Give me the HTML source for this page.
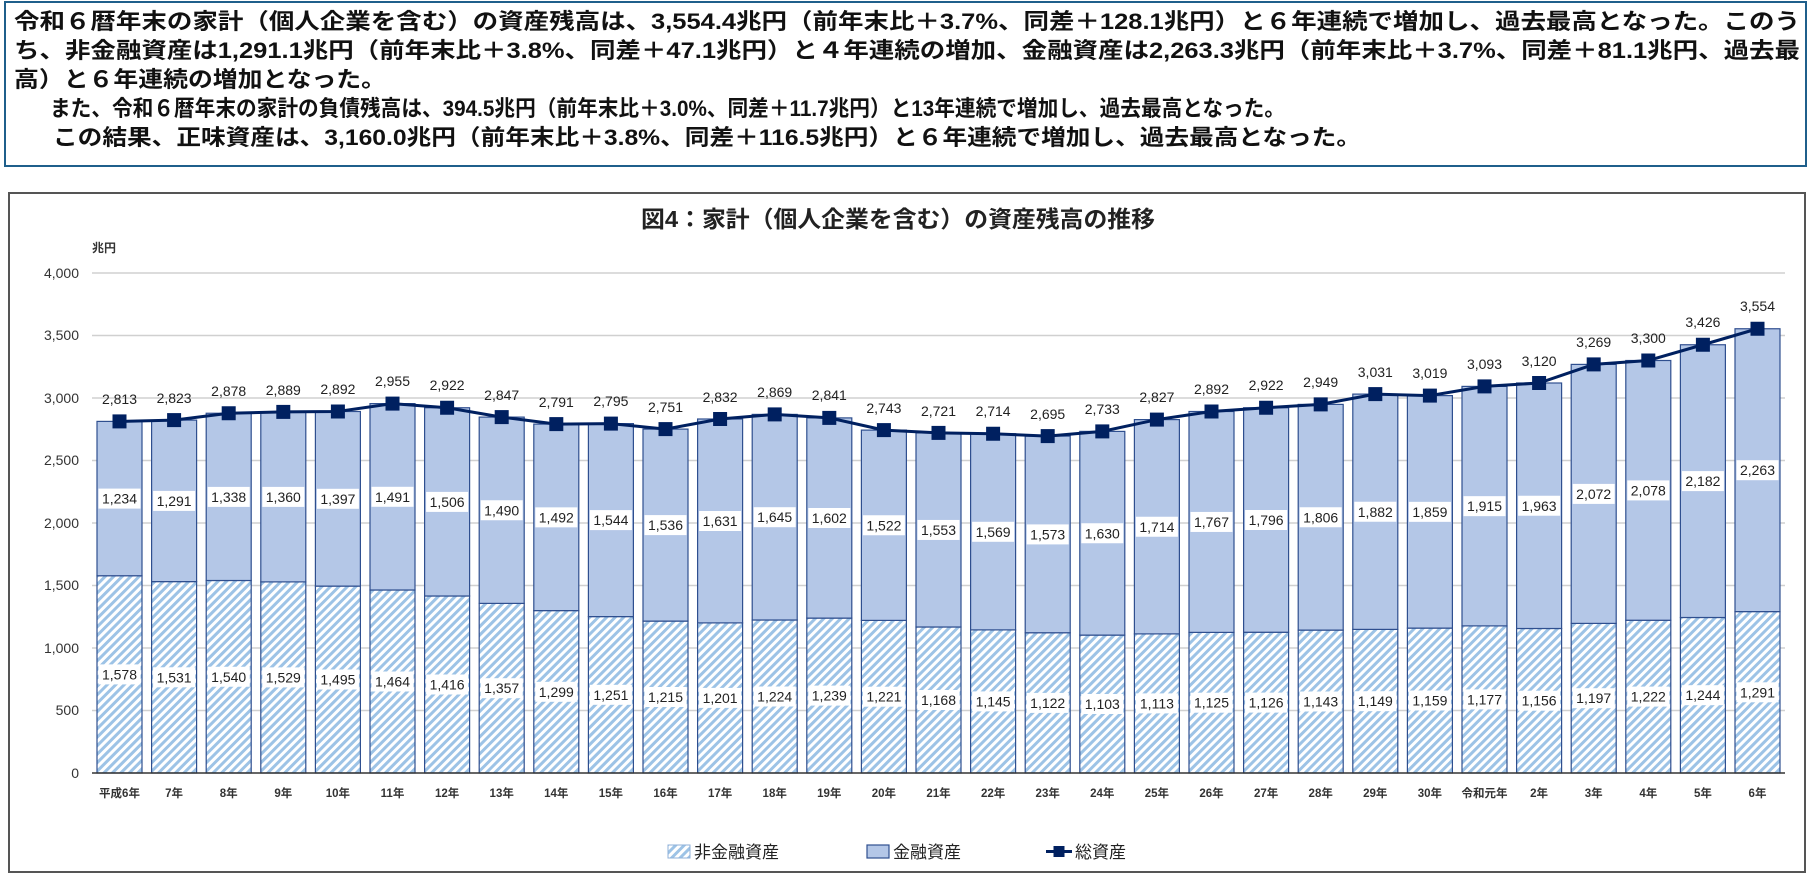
<!DOCTYPE html>
<html><head><meta charset="utf-8"><style>
html,body{margin:0;padding:0;background:#fff;}
svg{display:block;font-family:"Liberation Sans","Noto Sans CJK JP",sans-serif;}
.tb{font-family:"Liberation Sans","Noto Sans CJK JP",sans-serif;font-size:22px;font-weight:bold;fill:#111;}
.ax{font-size:14px;fill:#333;text-anchor:end;}
.xl{font-size:11.5px;fill:#333;text-anchor:middle;font-weight:bold;}
.dl{font-size:14px;fill:#222;text-anchor:middle;}
</style></head><body>
<svg width="1813" height="877" viewBox="0 0 1813 877" xmlns="http://www.w3.org/2000/svg">
<defs>
<pattern id="h" width="6" height="6" patternUnits="userSpaceOnUse" patternTransform="rotate(45)">
<rect width="6" height="6" fill="#fff"/><rect width="3" height="6" fill="#9dc3e6"/>
</pattern>
</defs>
<rect x="5" y="2" width="1801" height="164" fill="#fff" stroke="#1f5f8b" stroke-width="2"/>
<text class="tb" x="14" y="29" textLength="1786" lengthAdjust="spacingAndGlyphs">令和６暦年末の家計（個人企業を含む）の資産残高は、3,554.4兆円（前年末比＋3.7%、同差＋128.1兆円）と６年連続で増加し、過去最高となった。このう</text>
<text class="tb" x="14" y="58" textLength="1786" lengthAdjust="spacingAndGlyphs">ち、非金融資産は1,291.1兆円（前年末比＋3.8%、同差＋47.1兆円）と４年連続の増加、金融資産は2,263.3兆円（前年末比＋3.7%、同差＋81.1兆円、過去最</text>
<text class="tb" x="14" y="87" textLength="372" lengthAdjust="spacingAndGlyphs">高）と６年連続の増加となった。</text>
<text class="tb" x="50" y="116" textLength="1235" lengthAdjust="spacingAndGlyphs">また、令和６暦年末の家計の負債残高は、394.5兆円（前年末比＋3.0%、同差＋11.7兆円）と13年連続で増加し、過去最高となった。</text>
<text class="tb" x="53" y="145" textLength="1308" lengthAdjust="spacingAndGlyphs">この結果、正味資産は、3,160.0兆円（前年末比＋3.8%、同差＋116.5兆円）と６年連続で増加し、過去最高となった。</text>

<rect x="9" y="193" width="1796" height="679" fill="#fff" stroke="#555" stroke-width="2"/>
<text x="641" y="227" textLength="514" lengthAdjust="spacingAndGlyphs" font-size="23" font-weight="bold" fill="#222">図4：家計（個人企業を含む）の資産残高の推移</text>
<text x="92" y="252" font-size="12" fill="#333" font-weight="bold">兆円</text>

<g stroke="#d0d0d0" stroke-width="1.5">
<line x1="92" x2="1785" y1="273" y2="273"/><line x1="92" x2="1785" y1="335.5" y2="335.5"/>
<line x1="92" x2="1785" y1="398" y2="398"/><line x1="92" x2="1785" y1="460.5" y2="460.5"/>
<line x1="92" x2="1785" y1="523" y2="523"/><line x1="92" x2="1785" y1="585.5" y2="585.5"/>
<line x1="92" x2="1785" y1="648" y2="648"/><line x1="92" x2="1785" y1="710.5" y2="710.5"/>
</g>
<g class="ax">
<text x="79" y="278">4,000</text><text x="79" y="340">3,500</text><text x="79" y="403">3,000</text><text x="79" y="465">2,500</text>
<text x="79" y="528">2,000</text><text x="79" y="590">1,500</text><text x="79" y="653">1,000</text><text x="79" y="715">500</text><text x="79" y="778">0</text>
</g>

<g stroke="#2f4f8f" stroke-width="1.2">
<g transform="translate(119.5,0)"><rect x="-22.5" y="575.75" width="45" height="197.25" fill="url(#h)"/><rect x="-22.5" y="421.4" width="45" height="154.35" fill="#b4c7e7"/></g>
<g transform="translate(174.1,0)"><rect x="-22.5" y="581.6" width="45" height="191.4" fill="url(#h)"/><rect x="-22.5" y="420.1" width="45" height="161.5" fill="#b4c7e7"/></g>
<g transform="translate(228.7,0)"><rect x="-22.5" y="580.5" width="45" height="192.5" fill="url(#h)"/><rect x="-22.5" y="413.25" width="45" height="167.25" fill="#b4c7e7"/></g>
<g transform="translate(283.3,0)"><rect x="-22.5" y="581.9" width="45" height="191.1" fill="url(#h)"/><rect x="-22.5" y="411.9" width="45" height="170" fill="#b4c7e7"/></g>
<g transform="translate(337.9,0)"><rect x="-22.5" y="586.1" width="45" height="186.9" fill="url(#h)"/><rect x="-22.5" y="411.5" width="45" height="174.6" fill="#b4c7e7"/></g>
<g transform="translate(392.5,0)"><rect x="-22.5" y="590" width="45" height="183" fill="url(#h)"/><rect x="-22.5" y="403.6" width="45" height="186.4" fill="#b4c7e7"/></g>
<g transform="translate(447.1,0)"><rect x="-22.5" y="596" width="45" height="177" fill="url(#h)"/><rect x="-22.5" y="407.75" width="45" height="188.25" fill="#b4c7e7"/></g>
<g transform="translate(501.7,0)"><rect x="-22.5" y="603.4" width="45" height="169.6" fill="url(#h)"/><rect x="-22.5" y="417.1" width="45" height="186.3" fill="#b4c7e7"/></g>
<g transform="translate(556.3,0)"><rect x="-22.5" y="610.6" width="45" height="162.4" fill="url(#h)"/><rect x="-22.5" y="424.1" width="45" height="186.5" fill="#b4c7e7"/></g>
<g transform="translate(610.9,0)"><rect x="-22.5" y="616.6" width="45" height="156.4" fill="url(#h)"/><rect x="-22.5" y="423.6" width="45" height="193" fill="#b4c7e7"/></g>
<g transform="translate(665.5,0)"><rect x="-22.5" y="621.1" width="45" height="151.9" fill="url(#h)"/><rect x="-22.5" y="429.1" width="45" height="192" fill="#b4c7e7"/></g>
<g transform="translate(720.1,0)"><rect x="-22.5" y="622.9" width="45" height="150.1" fill="url(#h)"/><rect x="-22.5" y="419" width="45" height="203.9" fill="#b4c7e7"/></g>
<g transform="translate(774.7,0)"><rect x="-22.5" y="620" width="45" height="153" fill="url(#h)"/><rect x="-22.5" y="414.4" width="45" height="205.6" fill="#b4c7e7"/></g>
<g transform="translate(829.3,0)"><rect x="-22.5" y="618.1" width="45" height="154.9" fill="url(#h)"/><rect x="-22.5" y="417.9" width="45" height="200.2" fill="#b4c7e7"/></g>
<g transform="translate(883.9,0)"><rect x="-22.5" y="620.4" width="45" height="152.6" fill="url(#h)"/><rect x="-22.5" y="430.1" width="45" height="190.3" fill="#b4c7e7"/></g>
<g transform="translate(938.5,0)"><rect x="-22.5" y="627" width="45" height="146" fill="url(#h)"/><rect x="-22.5" y="432.9" width="45" height="194.1" fill="#b4c7e7"/></g>
<g transform="translate(993.1,0)"><rect x="-22.5" y="629.9" width="45" height="143.1" fill="url(#h)"/><rect x="-22.5" y="433.75" width="45" height="196.15" fill="#b4c7e7"/></g>
<g transform="translate(1047.7,0)"><rect x="-22.5" y="632.75" width="45" height="140.25" fill="url(#h)"/><rect x="-22.5" y="436.1" width="45" height="196.65" fill="#b4c7e7"/></g>
<g transform="translate(1102.3,0)"><rect x="-22.5" y="635.1" width="45" height="137.9" fill="url(#h)"/><rect x="-22.5" y="431.4" width="45" height="203.7" fill="#b4c7e7"/></g>
<g transform="translate(1156.9,0)"><rect x="-22.5" y="633.9" width="45" height="139.1" fill="url(#h)"/><rect x="-22.5" y="419.6" width="45" height="214.3" fill="#b4c7e7"/></g>
<g transform="translate(1211.5,0)"><rect x="-22.5" y="632.4" width="45" height="140.6" fill="url(#h)"/><rect x="-22.5" y="411.5" width="45" height="220.9" fill="#b4c7e7"/></g>
<g transform="translate(1266.1,0)"><rect x="-22.5" y="632.25" width="45" height="140.75" fill="url(#h)"/><rect x="-22.5" y="407.75" width="45" height="224.5" fill="#b4c7e7"/></g>
<g transform="translate(1320.7,0)"><rect x="-22.5" y="630.1" width="45" height="142.9" fill="url(#h)"/><rect x="-22.5" y="404.4" width="45" height="225.7" fill="#b4c7e7"/></g>
<g transform="translate(1375.3,0)"><rect x="-22.5" y="629.4" width="45" height="143.6" fill="url(#h)"/><rect x="-22.5" y="394.1" width="45" height="235.3" fill="#b4c7e7"/></g>
<g transform="translate(1429.9,0)"><rect x="-22.5" y="628.1" width="45" height="144.9" fill="url(#h)"/><rect x="-22.5" y="395.6" width="45" height="232.5" fill="#b4c7e7"/></g>
<g transform="translate(1484.5,0)"><rect x="-22.5" y="625.9" width="45" height="147.1" fill="url(#h)"/><rect x="-22.5" y="386.4" width="45" height="239.5" fill="#b4c7e7"/></g>
<g transform="translate(1539.1,0)"><rect x="-22.5" y="628.5" width="45" height="144.5" fill="url(#h)"/><rect x="-22.5" y="383" width="45" height="245.5" fill="#b4c7e7"/></g>
<g transform="translate(1593.7,0)"><rect x="-22.5" y="623.4" width="45" height="149.6" fill="url(#h)"/><rect x="-22.5" y="364.4" width="45" height="259" fill="#b4c7e7"/></g>
<g transform="translate(1648.3,0)"><rect x="-22.5" y="620.25" width="45" height="152.75" fill="url(#h)"/><rect x="-22.5" y="360.5" width="45" height="259.75" fill="#b4c7e7"/></g>
<g transform="translate(1702.9,0)"><rect x="-22.5" y="617.5" width="45" height="155.5" fill="url(#h)"/><rect x="-22.5" y="344.75" width="45" height="272.75" fill="#b4c7e7"/></g>
<g transform="translate(1757.5,0)"><rect x="-22.5" y="611.6" width="45" height="161.4" fill="url(#h)"/><rect x="-22.5" y="328.75" width="45" height="282.85" fill="#b4c7e7"/></g>
</g>
<line x1="92" x2="1785" y1="773" y2="773" stroke="#333" stroke-width="1.5"/>

<polyline fill="none" stroke="#002060" stroke-width="3" points="119.5,421.4 174.1,420.1 228.7,413.25 283.3,411.9 337.9,411.5 392.5,403.6 447.1,407.75 501.7,417.1 556.3,424.1 610.9,423.6 665.5,429.1 720.1,419 774.7,414.4 829.3,417.9 883.9,430.1 938.5,432.9 993.1,433.75 1047.7,436.1 1102.3,431.4 1156.9,419.6 1211.5,411.5 1266.1,407.75 1320.7,404.4 1375.3,394.1 1429.9,395.6 1484.5,386.4 1539.1,383 1593.7,364.4 1648.3,360.5 1702.9,344.75 1757.5,328.75"/>
<g fill="#002060">
<rect x="112.5" y="414.4" width="14" height="14"/><rect x="167.1" y="413.1" width="14" height="14"/><rect x="221.7" y="406.25" width="14" height="14"/><rect x="276.3" y="404.9" width="14" height="14"/><rect x="330.9" y="404.5" width="14" height="14"/><rect x="385.5" y="396.6" width="14" height="14"/><rect x="440.1" y="400.75" width="14" height="14"/><rect x="494.7" y="410.1" width="14" height="14"/><rect x="549.3" y="417.1" width="14" height="14"/><rect x="603.9" y="416.6" width="14" height="14"/><rect x="658.5" y="422.1" width="14" height="14"/><rect x="713.1" y="412" width="14" height="14"/><rect x="767.7" y="407.4" width="14" height="14"/><rect x="822.3" y="410.9" width="14" height="14"/><rect x="876.9" y="423.1" width="14" height="14"/><rect x="931.5" y="425.9" width="14" height="14"/><rect x="986.1" y="426.75" width="14" height="14"/><rect x="1040.7" y="429.1" width="14" height="14"/><rect x="1095.3" y="424.4" width="14" height="14"/><rect x="1149.9" y="412.6" width="14" height="14"/><rect x="1204.5" y="404.5" width="14" height="14"/><rect x="1259.1" y="400.75" width="14" height="14"/><rect x="1313.7" y="397.4" width="14" height="14"/><rect x="1368.3" y="387.1" width="14" height="14"/><rect x="1422.9" y="388.6" width="14" height="14"/><rect x="1477.5" y="379.4" width="14" height="14"/><rect x="1532.1" y="376" width="14" height="14"/><rect x="1586.7" y="357.4" width="14" height="14"/><rect x="1641.3" y="353.5" width="14" height="14"/><rect x="1695.9" y="337.75" width="14" height="14"/><rect x="1750.5" y="321.75" width="14" height="14"/>
</g>

<g class="dl">
<text x="119.5" y="404">2,813</text><text x="174.1" y="403">2,823</text><text x="228.7" y="396">2,878</text><text x="283.3" y="395">2,889</text><text x="337.9" y="394">2,892</text><text x="392.5" y="386">2,955</text><text x="447.1" y="390">2,922</text><text x="501.7" y="400">2,847</text><text x="556.3" y="407">2,791</text><text x="610.9" y="406">2,795</text><text x="665.5" y="412">2,751</text><text x="720.1" y="402">2,832</text><text x="774.7" y="397">2,869</text><text x="829.3" y="400">2,841</text><text x="883.9" y="413">2,743</text><text x="938.5" y="416">2,721</text><text x="993.1" y="416">2,714</text><text x="1047.7" y="419">2,695</text><text x="1102.3" y="414">2,733</text><text x="1156.9" y="402">2,827</text><text x="1211.5" y="394">2,892</text><text x="1266.1" y="390">2,922</text><text x="1320.7" y="387">2,949</text><text x="1375.3" y="377">3,031</text><text x="1429.9" y="378">3,019</text><text x="1484.5" y="369">3,093</text><text x="1539.1" y="366">3,120</text><text x="1593.7" y="347">3,269</text><text x="1648.3" y="343">3,300</text><text x="1702.9" y="327">3,426</text><text x="1757.5" y="311">3,554</text>
</g>

<g fill="#fff">
<rect x="98.5" y="488.6" width="42" height="20"/><rect x="153.1" y="490.9" width="42" height="20"/><rect x="207.7" y="486.9" width="42" height="20"/><rect x="262.3" y="486.9" width="42" height="20"/><rect x="316.9" y="488.8" width="42" height="20"/><rect x="371.5" y="486.8" width="42" height="20"/><rect x="426.1" y="491.9" width="42" height="20"/><rect x="480.7" y="500.25" width="42" height="20"/><rect x="535.3" y="507.35" width="42" height="20"/><rect x="589.9" y="510.1" width="42" height="20"/><rect x="644.5" y="515.1" width="42" height="20"/><rect x="699.1" y="511" width="42" height="20"/><rect x="753.7" y="507.2" width="42" height="20"/><rect x="808.3" y="508" width="42" height="20"/><rect x="862.9" y="515.25" width="42" height="20"/><rect x="917.5" y="519.95" width="42" height="20"/><rect x="972.1" y="521.8" width="42" height="20"/><rect x="1026.7" y="524.4" width="42" height="20"/><rect x="1081.3" y="523.25" width="42" height="20"/><rect x="1135.9" y="516.75" width="42" height="20"/><rect x="1190.5" y="511.95" width="42" height="20"/><rect x="1245.1" y="510" width="42" height="20"/><rect x="1299.7" y="507.25" width="42" height="20"/><rect x="1354.3" y="501.75" width="42" height="20"/><rect x="1408.9" y="501.85" width="42" height="20"/><rect x="1463.5" y="496.15" width="42" height="20"/><rect x="1518.1" y="495.75" width="42" height="20"/><rect x="1572.7" y="483.9" width="42" height="20"/><rect x="1627.3" y="480.4" width="42" height="20"/><rect x="1681.9" y="471.1" width="42" height="20"/><rect x="1736.5" y="460.2" width="42" height="20"/>
<rect x="98.5" y="664.4" width="42" height="20"/><rect x="153.1" y="667.3" width="42" height="20"/><rect x="207.7" y="666.75" width="42" height="20"/><rect x="262.3" y="667.4" width="42" height="20"/><rect x="316.9" y="669.5" width="42" height="20"/><rect x="371.5" y="671.5" width="42" height="20"/><rect x="426.1" y="674.5" width="42" height="20"/><rect x="480.7" y="678.2" width="42" height="20"/><rect x="535.3" y="681.8" width="42" height="20"/><rect x="589.9" y="684.8" width="42" height="20"/><rect x="644.5" y="687" width="42" height="20"/><rect x="699.1" y="687.9" width="42" height="20"/><rect x="753.7" y="686.5" width="42" height="20"/><rect x="808.3" y="685.6" width="42" height="20"/><rect x="862.9" y="686.7" width="42" height="20"/><rect x="917.5" y="690" width="42" height="20"/><rect x="972.1" y="691.4" width="42" height="20"/><rect x="1026.7" y="692.9" width="42" height="20"/><rect x="1081.3" y="694" width="42" height="20"/><rect x="1135.9" y="693.4" width="42" height="20"/><rect x="1190.5" y="692.7" width="42" height="20"/><rect x="1245.1" y="692.6" width="42" height="20"/><rect x="1299.7" y="691.5" width="42" height="20"/><rect x="1354.3" y="691.2" width="42" height="20"/><rect x="1408.9" y="690.5" width="42" height="20"/><rect x="1463.5" y="689.4" width="42" height="20"/><rect x="1518.1" y="690.7" width="42" height="20"/><rect x="1572.7" y="688.2" width="42" height="20"/><rect x="1627.3" y="686.6" width="42" height="20"/><rect x="1681.9" y="685.2" width="42" height="20"/><rect x="1736.5" y="682.3" width="42" height="20"/>
</g>
<g class="dl">
<text x="119.5" y="503.6">1,234</text><text x="174.1" y="505.9">1,291</text><text x="228.7" y="501.9">1,338</text><text x="283.3" y="501.9">1,360</text><text x="337.9" y="503.8">1,397</text><text x="392.5" y="501.8">1,491</text><text x="447.1" y="506.9">1,506</text><text x="501.7" y="515.25">1,490</text><text x="556.3" y="522.35">1,492</text><text x="610.9" y="525.1">1,544</text><text x="665.5" y="530.1">1,536</text><text x="720.1" y="526">1,631</text><text x="774.7" y="522.2">1,645</text><text x="829.3" y="523">1,602</text><text x="883.9" y="530.25">1,522</text><text x="938.5" y="534.95">1,553</text><text x="993.1" y="536.8">1,569</text><text x="1047.7" y="539.4">1,573</text><text x="1102.3" y="538.25">1,630</text><text x="1156.9" y="531.75">1,714</text><text x="1211.5" y="526.95">1,767</text><text x="1266.1" y="525">1,796</text><text x="1320.7" y="522.25">1,806</text><text x="1375.3" y="516.75">1,882</text><text x="1429.9" y="516.85">1,859</text><text x="1484.5" y="511.15">1,915</text><text x="1539.1" y="510.75">1,963</text><text x="1593.7" y="498.9">2,072</text><text x="1648.3" y="495.4">2,078</text><text x="1702.9" y="486.1">2,182</text><text x="1757.5" y="475.2">2,263</text>
<text x="119.5" y="679.4">1,578</text><text x="174.1" y="682.3">1,531</text><text x="228.7" y="681.75">1,540</text><text x="283.3" y="682.4">1,529</text><text x="337.9" y="684.5">1,495</text><text x="392.5" y="686.5">1,464</text><text x="447.1" y="689.5">1,416</text><text x="501.7" y="693.2">1,357</text><text x="556.3" y="696.8">1,299</text><text x="610.9" y="699.8">1,251</text><text x="665.5" y="702">1,215</text><text x="720.1" y="702.9">1,201</text><text x="774.7" y="701.5">1,224</text><text x="829.3" y="700.6">1,239</text><text x="883.9" y="701.7">1,221</text><text x="938.5" y="705">1,168</text><text x="993.1" y="706.4">1,145</text><text x="1047.7" y="707.9">1,122</text><text x="1102.3" y="709">1,103</text><text x="1156.9" y="708.4">1,113</text><text x="1211.5" y="707.7">1,125</text><text x="1266.1" y="707.6">1,126</text><text x="1320.7" y="706.5">1,143</text><text x="1375.3" y="706.2">1,149</text><text x="1429.9" y="705.5">1,159</text><text x="1484.5" y="704.4">1,177</text><text x="1539.1" y="705.7">1,156</text><text x="1593.7" y="703.2">1,197</text><text x="1648.3" y="701.6">1,222</text><text x="1702.9" y="700.2">1,244</text><text x="1757.5" y="697.3">1,291</text>
</g>

<g class="xl">
<text x="119.5" y="797">平成6年</text><text x="174.1" y="797">7年</text><text x="228.7" y="797">8年</text><text x="283.3" y="797">9年</text><text x="337.9" y="797">10年</text><text x="392.5" y="797">11年</text><text x="447.1" y="797">12年</text><text x="501.7" y="797">13年</text><text x="556.3" y="797">14年</text><text x="610.9" y="797">15年</text><text x="665.5" y="797">16年</text><text x="720.1" y="797">17年</text><text x="774.7" y="797">18年</text><text x="829.3" y="797">19年</text><text x="883.9" y="797">20年</text><text x="938.5" y="797">21年</text><text x="993.1" y="797">22年</text><text x="1047.7" y="797">23年</text><text x="1102.3" y="797">24年</text><text x="1156.9" y="797">25年</text><text x="1211.5" y="797">26年</text><text x="1266.1" y="797">27年</text><text x="1320.7" y="797">28年</text><text x="1375.3" y="797">29年</text><text x="1429.9" y="797">30年</text><text x="1484.5" y="797">令和元年</text><text x="1539.1" y="797">2年</text><text x="1593.7" y="797">3年</text><text x="1648.3" y="797">4年</text><text x="1702.9" y="797">5年</text><text x="1757.5" y="797">6年</text>
</g>

<rect x="668" y="845" width="22" height="13" fill="url(#h)" stroke="#8fb0d8" stroke-width="1"/>
<text x="694" y="858" font-size="17" fill="#222">非金融資産</text>
<rect x="867" y="845" width="22" height="13" fill="#b4c7e7" stroke="#2f4f8f" stroke-width="1.2"/>
<text x="893" y="858" font-size="17" fill="#222">金融資産</text>
<line x1="1046" x2="1072" y1="851.5" y2="851.5" stroke="#002060" stroke-width="3"/>
<rect x="1053.5" y="846" width="11" height="11" fill="#002060"/>
<text x="1075" y="858" font-size="17" fill="#222">総資産</text>
</svg>
</body></html>
